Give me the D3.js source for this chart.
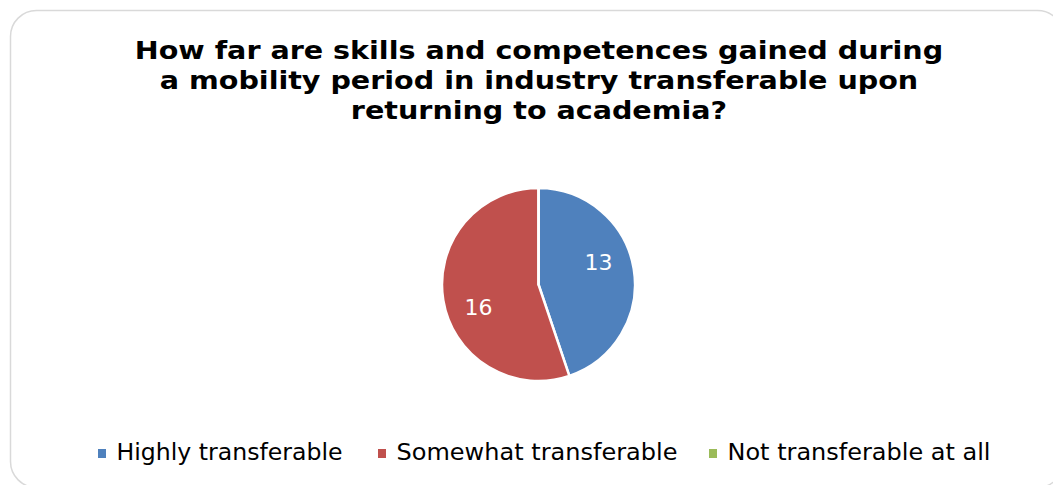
<!DOCTYPE html>
<html><head><meta charset="utf-8">
<script src="https://cdn.jsdelivr.net/npm/d3@7"></script>
<style>html,body{margin:0;padding:0;background:#fff;overflow:hidden}</style>
</head><body>
<svg id="chart" width="1053" height="485"></svg>
<script>
const titleLines = ["How far are skills and competences gained during", "a mobility period in industry transferable upon", "returning to academia?"];
const categories = ["Highly transferable", "Somewhat transferable", "Not transferable at all"];
const values = [13, 16, 0];
const colors = ["#4F81BD", "#C0504D", "#9BBB59"];

const svg = d3.select("#chart");
svg.append("rect").attr("x", 10.5).attr("y", 10.5).attr("width", 1053).attr("height", 477)
  .attr("rx", 26).attr("fill", "#fff").attr("stroke", "#d9d9d9").attr("stroke-width", 1.5);

const FONT = "DejaVu Sans, Verdana, sans-serif";
const title = svg.append("text").attr("text-anchor", "middle")
  .attr("font-family", FONT).attr("font-weight", "bold")
  .attr("font-size", 24).attr("fill", "#000");
titleLines.forEach((t, i) => {
  const ts = title.append("tspan").attr("x", 539).attr("y", 59 + i * 30).text(t);
  const w = ts.node().getComputedTextLength();
  ts.attr("textLength", w * 1.19).attr("lengthAdjust", "spacingAndGlyphs");
});

const cx = 538.5, cy = 284.5, r = 96.5;
const pie = d3.pie().sort(null).value(d => d)(values);
const arc = d3.arc().innerRadius(0).outerRadius(r);
const g = svg.append("g").attr("transform", `translate(${cx},${cy})`);
g.selectAll("path").data(pie).join("path")
  .attr("d", arc).attr("fill", (d, i) => colors[i])
  .attr("stroke", "#fff").attr("stroke-width", 2.5).attr("stroke-linejoin", "round");

const labelArc = d3.arc().innerRadius(64).outerRadius(64);
g.selectAll("text").data(pie.filter(d => d.value > 0)).join("text")
  .attr("transform", d => {
    const sh = -11 * Math.PI / 180;
    const [x, y] = labelArc.centroid({startAngle: d.startAngle + sh, endAngle: d.endAngle + sh});
    return `translate(${x},${y})`;
  })
  .attr("text-anchor", "middle").attr("dy", "0.36em")
  .attr("font-family", FONT).attr("font-size", 22)
  .attr("fill", "#fff").text(d => d.value);

const legendX = d3.scaleOrdinal().domain(categories).range([98, 378, 709]);
const lg = svg.append("g");
categories.forEach((c, i) => {
  const x = legendX(c);
  lg.append("rect").attr("x", x).attr("y", 449).attr("width", 8).attr("height", 9).attr("fill", colors[i]);
  const t = lg.append("text").attr("x", x + 18.5).attr("y", 460)
    .attr("font-family", FONT).attr("font-size", 22.5)
    .attr("fill", "#000").text(c);
  const w = t.node().getComputedTextLength();
  const target = [226, 281, 263][i];
  t.attr("textLength", target).attr("lengthAdjust", "spacingAndGlyphs");
});
</script>
</body></html>
